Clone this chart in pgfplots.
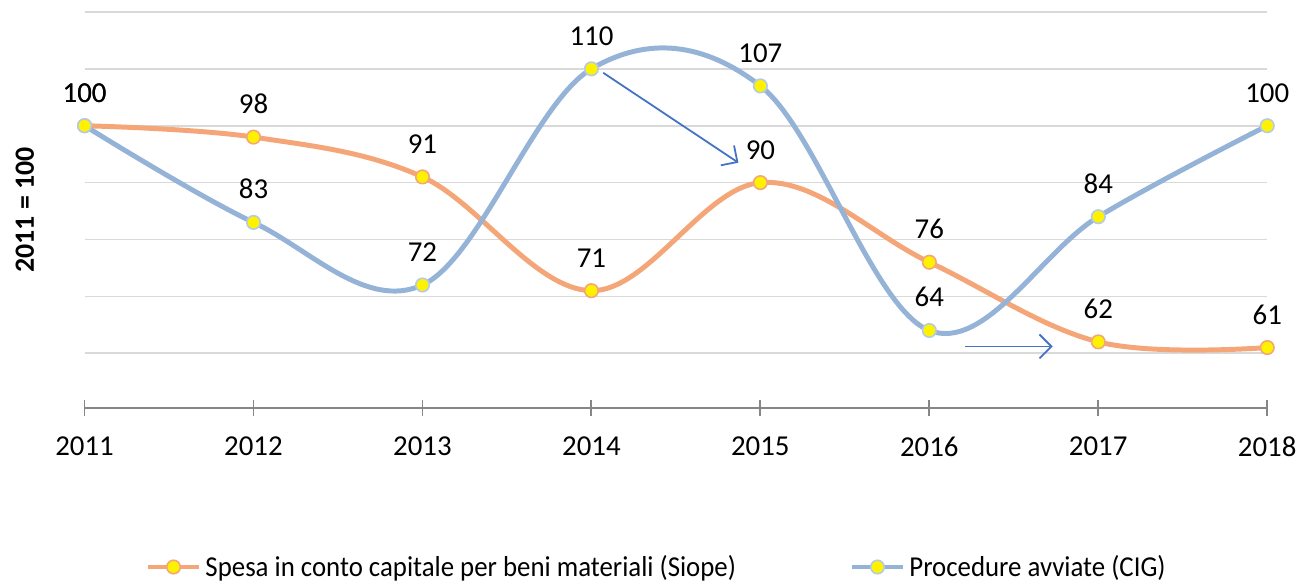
\documentclass[border=0pt]{standalone}
\usepackage{fontspec}
\setmainfont{Carlito}
\newfontfamily\legfont[FakeStretch=0.93]{Carlito}
\usepackage{pgfplots}
\pgfplotsset{compat=1.18}
\usetikzlibrary{arrows.meta}

\definecolor{serA}{HTML}{F4A678}
\definecolor{serB}{HTML}{95B3D7}
\definecolor{arr}{HTML}{4472C4}
\definecolor{gridc}{HTML}{D9D9D9}
\definecolor{axc}{HTML}{868686}

\begin{document}
\begin{tikzpicture}
\begin{axis}[
  width=594.5pt, height=199pt, scale only axis,
  xmin=2011, xmax=2018, ymin=50.4, ymax=120,
  clip=false,
  axis x line*=bottom, axis y line*=left,
  x axis line style={axc, line width=0.9pt, -},
  y axis line style={draw=none},
  xtick={2011,...,2018},
  xticklabel={\pgfmathprintnumber[1000 sep={}]{\tick}},
  xtick align=center, major tick length=8pt,
  xtick style={axc, line width=0.9pt},
  ytick={60,70,...,120}, yticklabels={}, ytick style={draw=none},
  ymajorgrids, grid style={gridc, line width=0.8pt},
  /pgf/number format/assume math mode=true,
  tick label style={font=\fontsize{14.5}{17}\selectfont},
  xticklabel style={yshift=-7pt},
  ylabel={\textbf{2011 = 100}},
  every axis y label/.style={at={(rel axis cs:-0.0505,0.5)}, rotate=90, anchor=center, font=\fontsize{14}{17}\selectfont},
  nodes near coords,
  every node near coord/.append style={text=black, anchor=south, yshift=8pt, font=\fontsize{14.5}{17}\selectfont},
  legend style={at={(rel axis cs:0.4845,-0.402)}, anchor=center, draw=none,
    legend columns=2, /tikz/every even column/.append style={column sep=55pt},
    font=\legfont\fontsize{14.5}{17}\selectfont},
  legend image code/.code={\draw[mark repeat=2,mark phase=2] plot coordinates {(0cm,0cm)(0.45cm,0cm)(0.9cm,0cm)};},
]
\addplot[serA, line width=2.5pt, smooth, tension=0.6, mark=*, mark size=3.4pt,
  mark options={fill=yellow, draw=serA, line width=0.8pt}]
  coordinates {(2011,100) (2012,98) (2013,91) (2014,71) (2015,90) (2016,76) (2017,62) (2018,61)};
\addlegendentry{Spesa in conto capitale per beni materiali (Siope)}
\addplot[serB, line width=2.5pt, smooth, tension=0.6, mark=*, mark size=3.4pt,
  mark options={fill=yellow, draw=serB!70!white, line width=0.8pt}]
  coordinates {(2011,100) (2012,83) (2013,72) (2014,110) (2015,107) (2016,64) (2017,84) (2018,100)};
\addlegendentry{Procedure avviate (CIG)}
\draw[arr, line width=0.9pt, -{Straight Barb[length=6pt, width=12pt]}]
  (axis cs:2014.07,109.3) -- (axis cs:2014.87,93.5);
\draw[arr, line width=0.9pt, -{Straight Barb[length=6pt, width=12pt]}]
  (axis cs:2016.21,61.2) -- (axis cs:2016.73,61.2);
\path (rel axis cs:-0.0715,-0.4347) rectangle (rel axis cs:1.0244,1.0302);
\end{axis}
\end{tikzpicture}
\end{document}
